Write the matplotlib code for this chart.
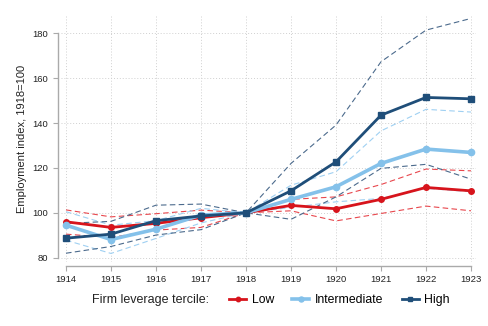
import numpy as np
import matplotlib
matplotlib.use("Agg")
import matplotlib.pyplot as plt

plt.rcParams['font.family'] = ['Liberation Sans', 'DejaVu Sans']

years = [1914, 1915, 1916, 1917, 1918, 1919, 1920, 1921, 1922, 1923]

# point estimates
low = [96.0, 93.5, 95.3, 97.8, 100, 103.3, 101.8, 106.0, 111.3, 109.8]
mid = [94.5, 88.1, 92.7, 99.0, 100, 106.0, 111.6, 122.0, 128.4, 126.9]
high = [88.7, 90.5, 96.5, 98.6, 100, 109.8, 122.7, 143.5, 151.4, 150.8]

# confidence bands
low_lo = [90.5, 89.0, 92.3, 93.5, 100, 100.9, 96.4, 99.7, 103.0, 100.9]
low_hi = [101.3, 98.2, 99.6, 101.2, 100, 106.0, 107.1, 112.6, 119.5, 118.7]
mid_lo = [87.8, 81.9, 88.6, 95.5, 100, 102.4, 104.9, 106.4, 110.9, 109.4]
mid_hi = [100.5, 94.5, 96.5, 102.0, 100, 112.3, 118.3, 136.5, 146.1, 144.9]
high_lo = [82.0, 85.0, 90.1, 92.5, 100, 97.1, 107.1, 119.8, 121.6, 115.0]
high_hi = [95.3, 96.2, 103.4, 103.9, 100, 122.0, 139.1, 167.3, 181.4, 186.6]

c_low = '#d7141c'
c_mid = '#84c1ea'
c_high = '#1f4e79'

fig = plt.figure(figsize=(4.88, 3.26), dpi=100)
ax = fig.add_axes([61.5 / 488, 1 - 262.2 / 326, 414 / 488, 246.9 / 326])

dash = (0, (5, 3))
ax.plot(years, low_lo, color='#e8474d', lw=0.8, ls=dash)
ax.plot(years, low_hi, color='#e8474d', lw=0.8, ls=dash)
ax.plot(years, mid_lo, color='#9fd0f2', lw=0.8, ls=dash)
ax.plot(years, mid_hi, color='#9fd0f2', lw=0.8, ls=dash)
ax.plot(years, high_lo, color='#4b6a8c', lw=0.8, ls=dash)
ax.plot(years, high_hi, color='#4b6a8c', lw=0.8, ls=dash)

l1, = ax.plot(years, low, color=c_low, lw=2.0, marker='o', ms=4, label='Low')
l2, = ax.plot(years, mid, color=c_mid, lw=2.6, marker='o', ms=4.5, label='Intermediate')
l3, = ax.plot(years, high, color=c_high, lw=2.0, marker='s', ms=4, label='High')

ax.set_xlim(1913.9, 1923.1)
ax.set_ylim(78, 188)
ax.set_xticks(years)
ax.set_yticks([80, 100, 120, 140, 160, 180])
ax.grid(True, color='#d0d0d0', ls=(0, (1, 2)), lw=0.7)
ax.set_axisbelow(True)

for s in ['top', 'right']:
    ax.spines[s].set_visible(False)
ax.spines['left'].set_position(('outward', 2.5))
ax.spines['bottom'].set_position(('outward', 2.5))
ax.spines['left'].set_bounds(80, 180)
ax.spines['bottom'].set_bounds(1914, 1923)
for s in ['left', 'bottom']:
    ax.spines[s].set_color('#aaaaaa')
    ax.spines[s].set_linewidth(1.0)
ax.tick_params(colors='#aaaaaa', labelcolor='#222222', labelsize=6.8, length=3.5, width=0.8)
ax.set_ylabel('Employment index, 1918=100', fontsize=8, color='#222222', labelpad=4)

fig.text(92 / 488, 1 - 300 / 326, 'Firm leverage tercile:', fontsize=9,
         color='#222222', va='center', ha='left')
fig.legend(handles=[l1, l2, l3], ncol=3, loc='center left',
           bbox_to_anchor=(218 / 488, 1 - 300 / 326), frameon=False,
           fontsize=8.8, handlelength=1.4, handletextpad=0.45, columnspacing=1.5,
           markerscale=0.8)

fig.savefig('out.png', dpi=100)
